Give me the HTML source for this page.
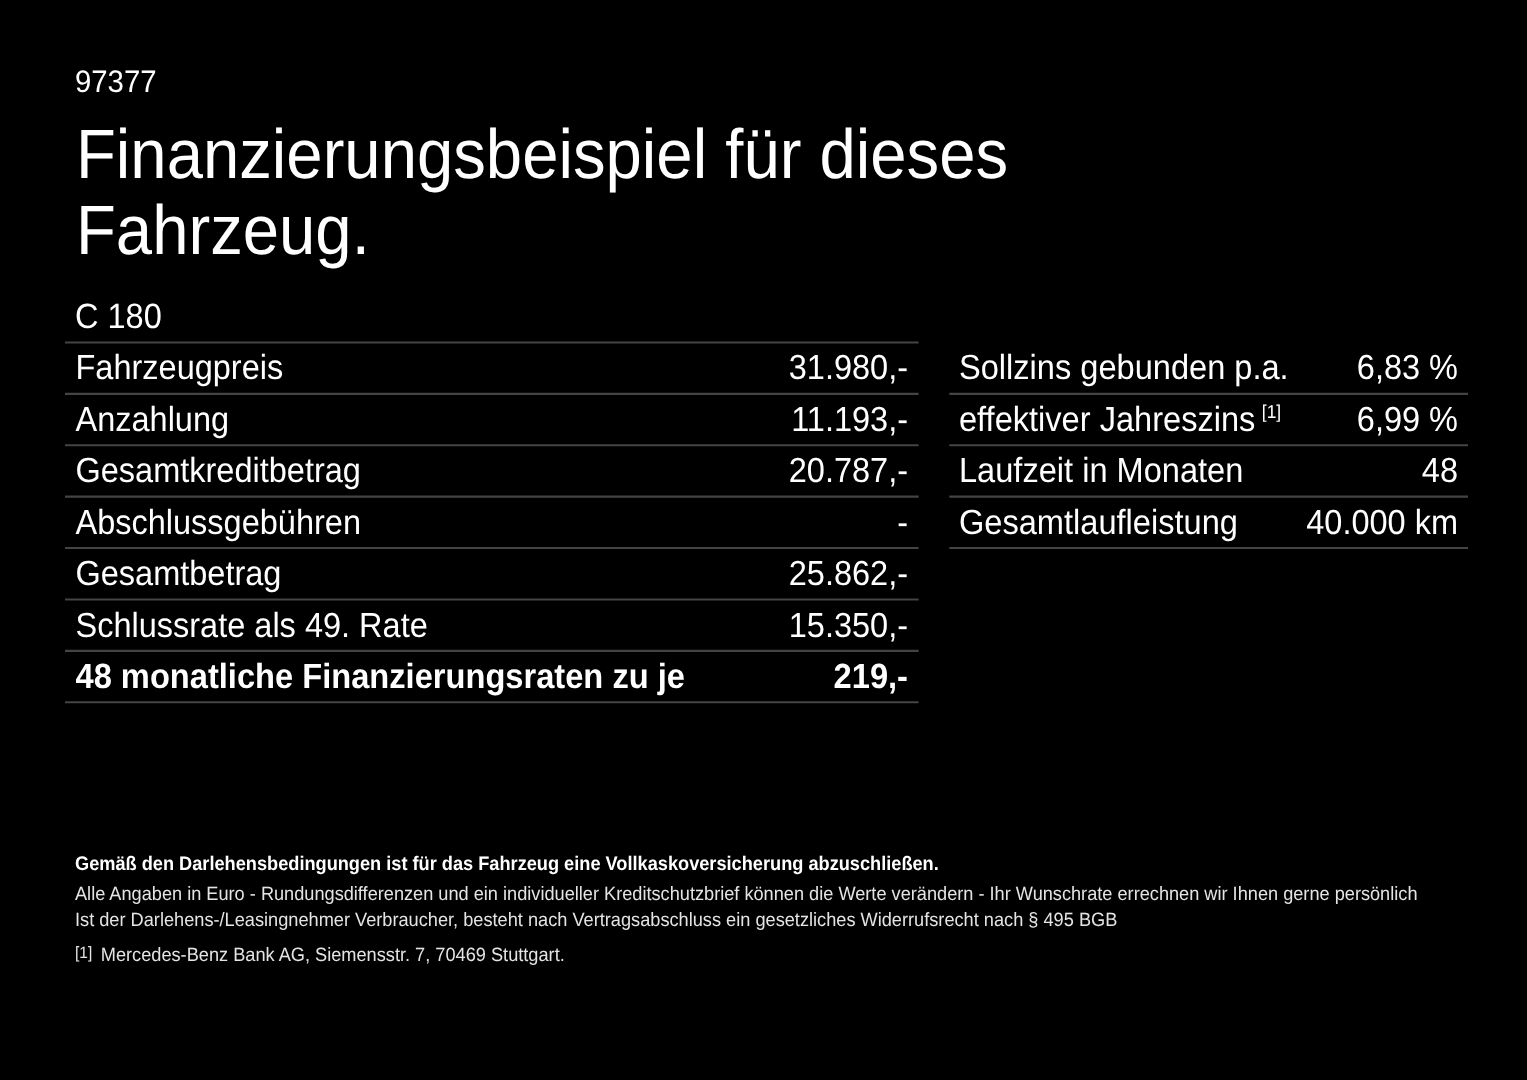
<!DOCTYPE html>
<html lang="de">
<head>
<meta charset="utf-8">
<title>Finanzierungsbeispiel für dieses Fahrzeug</title>
<style>
html,body{margin:0;padding:0;background:#000;}
body{width:1527px;height:1080px;position:relative;overflow:hidden;color:#fff;
 font-family:"Liberation Sans",Arial,Helvetica,sans-serif;}
.t{position:absolute;white-space:nowrap;margin:0;padding:0;text-rendering:geometricPrecision;}
svg{position:absolute;left:0;top:0;}
svg line{stroke:#444;stroke-width:2.1;}
.sup{font-size:17.4px;position:relative;top:-12.5px;margin-left:6.5px;}
.fn{font-size:15.5px;position:relative;top:-3px;margin-right:8.5px;}
</style>
</head>
<body>
<svg width="1527" height="1080" viewBox="0 0 1527 1080">
<line x1="65" x2="918.6" y1="342.50" y2="342.50"/>
<line x1="65" x2="918.6" y1="393.89" y2="393.89"/>
<line x1="65" x2="918.6" y1="445.28" y2="445.28"/>
<line x1="65" x2="918.6" y1="496.67" y2="496.67"/>
<line x1="65" x2="918.6" y1="548.06" y2="548.06"/>
<line x1="65" x2="918.6" y1="599.45" y2="599.45"/>
<line x1="65" x2="918.6" y1="650.84" y2="650.84"/>
<line x1="65" x2="918.6" y1="702.23" y2="702.23"/>
<line x1="949.3" x2="1468" y1="393.89" y2="393.89"/>
<line x1="949.3" x2="1468" y1="445.28" y2="445.28"/>
<line x1="949.3" x2="1468" y1="496.67" y2="496.67"/>
<line x1="949.3" x2="1468" y1="548.06" y2="548.06"/>
</svg>
<div class="t" style="top:65.00px;font-size:29.4px;line-height:35px;left:74.9px;transform-origin:0 27.00px;transform:scale(1.0,1.06);">97377</div>
<h1 class="t" style="top:120.02px;font-size:65.25px;line-height:71.03px;left:76px;transform-origin:0 57.98px;transform:scale(1.0,1.07);font-weight:400;">Finanzierungsbeispiel für dieses<br>Fahrzeug.</h1>
<h2 class="t" style="top:298.00px;font-size:32.5px;line-height:39px;left:75px;transform-origin:0 30.00px;transform:scale(1.0,1.08);font-weight:400;">C 180</h2>
<div class="t" style="top:349.00px;font-size:32.5px;line-height:39px;left:75.5px;transform-origin:0 30.00px;transform:scale(1.0,1.07);">Fahrzeugpreis</div>
<div class="t" style="top:349.00px;font-size:32.5px;line-height:39px;right:619px;transform-origin:100% 30.00px;transform:scale(1.0,1.07);">31.980,-</div>
<div class="t" style="top:401.00px;font-size:32.5px;line-height:39px;left:75.5px;transform-origin:0 30.00px;transform:scale(1.0,1.07);">Anzahlung</div>
<div class="t" style="top:401.00px;font-size:32.5px;line-height:39px;right:619px;transform-origin:100% 30.00px;transform:scale(1.0,1.07);">11.193,-</div>
<div class="t" style="top:452.00px;font-size:32.5px;line-height:39px;left:75.5px;transform-origin:0 30.00px;transform:scale(1.0,1.07);">Gesamtkreditbetrag</div>
<div class="t" style="top:452.00px;font-size:32.5px;line-height:39px;right:619px;transform-origin:100% 30.00px;transform:scale(1.0,1.07);">20.787,-</div>
<div class="t" style="top:504.00px;font-size:32.5px;line-height:39px;left:75.5px;transform-origin:0 30.00px;transform:scale(1.0,1.07);">Abschlussgebühren</div>
<div class="t" style="top:504.00px;font-size:32.5px;line-height:39px;right:619px;transform-origin:100% 30.00px;transform:scale(1.0,1.07);">-</div>
<div class="t" style="top:555.00px;font-size:32.5px;line-height:39px;left:75.5px;transform-origin:0 30.00px;transform:scale(1.0,1.07);">Gesamtbetrag</div>
<div class="t" style="top:555.00px;font-size:32.5px;line-height:39px;right:619px;transform-origin:100% 30.00px;transform:scale(1.0,1.07);">25.862,-</div>
<div class="t" style="top:607.00px;font-size:32.5px;line-height:39px;left:75.5px;transform-origin:0 30.00px;transform:scale(1.0,1.07);">Schlussrate als 49. Rate</div>
<div class="t" style="top:607.00px;font-size:32.5px;line-height:39px;right:619px;transform-origin:100% 30.00px;transform:scale(1.0,1.07);">15.350,-</div>
<div class="t" style="top:657.00px;font-size:32.65px;line-height:39px;left:75.5px;transform-origin:0 31.00px;transform:scale(1.0,1.07);font-weight:700;">48 monatliche Finanzierungsraten zu je</div>
<div class="t" style="top:657.00px;font-size:32.65px;line-height:39px;right:619px;transform-origin:100% 31.00px;transform:scale(1.0,1.07);font-weight:700;">219,-</div>
<div class="t" style="top:348.00px;font-size:32.6px;line-height:39px;left:959px;transform-origin:0 31.00px;transform:scale(1.0,1.07);">Sollzins gebunden p.a.</div>
<div class="t" style="top:349.00px;font-size:32.5px;line-height:39px;right:69px;transform-origin:100% 30.00px;transform:scale(1.0,1.07);">6,83 %</div>
<div class="t" style="top:400.00px;font-size:32.6px;line-height:39px;left:959px;transform-origin:0 31.00px;transform:scale(1.0,1.07);">effektiver Jahreszins<span class="sup">[1]</span></div>
<div class="t" style="top:401.00px;font-size:32.5px;line-height:39px;right:69px;transform-origin:100% 30.00px;transform:scale(1.0,1.07);">6,99 %</div>
<div class="t" style="top:451.00px;font-size:32.6px;line-height:39px;left:959px;transform-origin:0 31.00px;transform:scale(1.0,1.07);">Laufzeit in Monaten</div>
<div class="t" style="top:452.00px;font-size:32.5px;line-height:39px;right:69px;transform-origin:100% 30.00px;transform:scale(1.0,1.07);">48</div>
<div class="t" style="top:503.00px;font-size:32.6px;line-height:39px;left:959px;transform-origin:0 31.00px;transform:scale(1.0,1.07);">Gesamtlaufleistung</div>
<div class="t" style="top:504.00px;font-size:32.5px;line-height:39px;right:69px;transform-origin:100% 30.00px;transform:scale(1.0,1.07);">40.000 km</div>
<p class="t" style="top:853.00px;font-size:18.2px;line-height:22px;left:75px;transform-origin:0 17.00px;transform:scale(1.0,1.08);font-weight:700;">Gemäß den Darlehensbedingungen ist für das Fahrzeug eine Vollkaskoversicherung abzuschließen.</p>
<p class="t" style="top:883.00px;font-size:18.18px;line-height:22px;left:75px;transform-origin:0 17.00px;transform:scale(1.0,1.06);color:#e4e4e4;">Alle Angaben in Euro - Rundungsdifferenzen und ein individueller Kreditschutzbrief können die Werte verändern - Ihr Wunschrate errechnen wir Ihnen gerne persönlich</p>
<p class="t" style="top:909.00px;font-size:18.2px;line-height:22px;left:75px;transform-origin:0 17.00px;transform:scale(1.0,1.06);color:#e4e4e4;">Ist der Darlehens-/Leasingnehmer Verbraucher, besteht nach Vertragsabschluss ein gesetzliches Widerrufsrecht nach § 495 BGB</p>
<p class="t" style="top:944.00px;font-size:18.2px;line-height:22px;left:75px;transform-origin:0 17.00px;transform:scale(1.0,1.06);color:#e4e4e4;"><span class="fn">[1]</span>Mercedes-Benz Bank AG, Siemensstr. 7, 70469 Stuttgart.</p>
</body>
</html>
